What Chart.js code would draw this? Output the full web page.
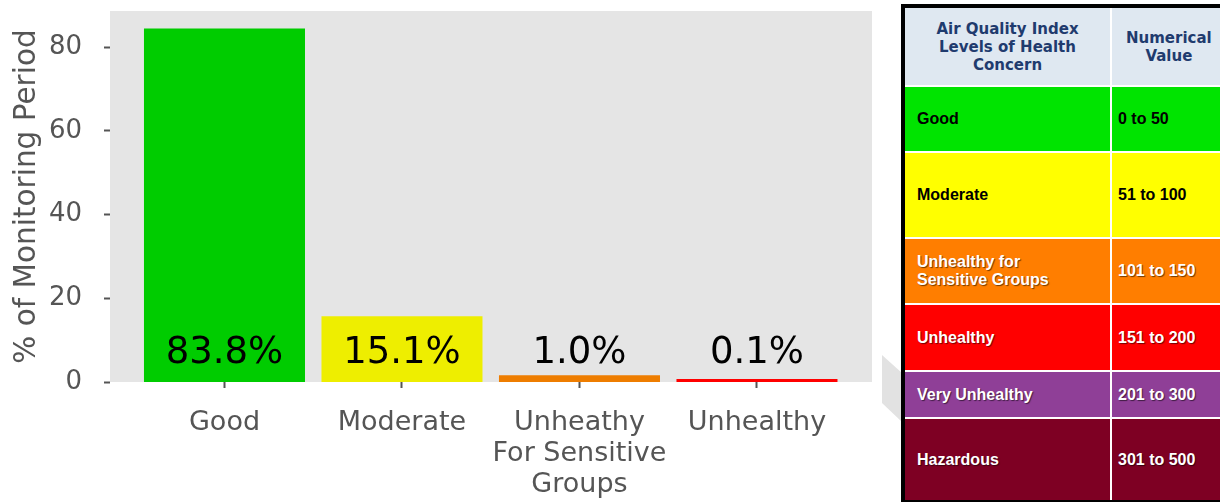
<!DOCTYPE html>
<html>
<head>
<meta charset="utf-8">
<title>Air Quality Index - % of Monitoring Period</title>
<script src="https://cdn.jsdelivr.net/npm/chart.js@4.4.1/dist/chart.umd.min.js"></script>
<style>
  html, body { margin: 0; padding: 0; background: #fff; }
  body { width: 1220px; height: 502px; position: relative; overflow: hidden; }
  #chart-wrap { position: absolute; left: 0; top: 0; width: 880px; height: 502px; }
  .chevron {
    position: absolute; left: 882px; top: 355px; width: 20px; height: 67px;
    background: #e2e2e2;
    clip-path: polygon(0 0, 20px 18px, 20px 67px, 0 48px);
  }
  #aqi-table {
    position: absolute; left: 901px; top: 4px;
    border: 4px solid #000; border-right: none;
    display: grid;
    grid-template-columns: 205px 120px;
    grid-template-rows: 77px 64px 84px 64px 65px 45px 81px;
    gap: 2px;
    background: #fff;
  }
  .cell {
    display: flex; align-items: center;
    font: bold 16px "Liberation Sans", Arial, sans-serif;
    line-height: 18px;
    padding-left: 12px;
    white-space: pre-line;
  }
  .cell.val { padding-left: 6px; }
  .cell.head {
    background: #dfe8f1; color: #1f3b6e;
    font: bold 15px "DejaVu Sans", Verdana, sans-serif;
    justify-content: center; text-align: center; padding-left: 0;
  }
  .cell.head.val { justify-content: flex-start; padding-left: 14px; }
  .cell.light { color: #fff; text-shadow: 1px 1px 1px rgba(0, 0, 0, 0.55); }
  .cell.dark { color: #000; }
</style>
</head>
<body>
<div id="chart-wrap"><canvas id="aqi-chart" width="880" height="502"></canvas></div>
<div class="chevron"></div>
<div id="aqi-table"></div>

<script>
// Bar chart data
const categories = ['Good', 'Moderate', ['Unheathy', 'For Sensitive', 'Groups'], 'Unhealthy'];
const percentages = [83.8, 15.1, 1.0, 0.1];
const barColors = ['#00cc00', '#eeee00', '#ee7d00', '#ff0000'];
const yTicks = [0, 20, 40, 60, 80];

// AQI reference table
const tableHeaders = ['Air Quality Index\nLevels of Health\nConcern', 'Numerical\nValue'];
const aqiLevels = ['Good', 'Moderate', 'Unhealthy for\nSensitive Groups', 'Unhealthy', 'Very Unhealthy', 'Hazardous'];
const aqiRanges = ['0 to 50', '51 to 100', '101 to 150', '151 to 200', '201 to 300', '301 to 500'];
const aqiColors = ['#00e400', '#ffff00', '#ff7e00', '#ff0000', '#8f3f97', '#7e0023'];
const aqiTextTone = ['dark', 'dark', 'light', 'light', 'light', 'light'];

/**
 * Build the AQI legend table from the arrays above
 */
function buildTable() {
  const table = document.getElementById('aqi-table');
  tableHeaders.forEach((text, i) => {
    const div = document.createElement('div');
    div.className = 'cell head' + (i === 1 ? ' val' : '');
    div.textContent = text;
    table.appendChild(div);
  });
  aqiLevels.forEach((level, i) => {
    const name = document.createElement('div');
    name.className = 'cell ' + aqiTextTone[i];
    name.style.background = aqiColors[i];
    name.textContent = level;
    table.appendChild(name);

    const range = document.createElement('div');
    range.className = 'cell val ' + aqiTextTone[i];
    range.style.background = aqiColors[i];
    range.textContent = aqiRanges[i];
    table.appendChild(range);
  });
}

// Grey plot background, like the ggplot style
const plotBackground = {
  id: 'plotBackground',
  beforeDraw(chart) {
    const { ctx, chartArea } = chart;
    ctx.save();
    ctx.fillStyle = '#e5e5e5';
    ctx.fillRect(chartArea.left, chartArea.top, chartArea.right - chartArea.left, chartArea.bottom - chartArea.top);
    ctx.restore();
  }
};

// Percentage labels near the bottom of each bar
const valueLabels = {
  id: 'valueLabels',
  afterDatasetsDraw(chart) {
    const { ctx } = chart;
    const meta = chart.getDatasetMeta(0);
    const base = chart.scales.y.getPixelForValue(0);
    ctx.save();
    ctx.font = '37px "DejaVu Sans"';
    ctx.fillStyle = '#000';
    ctx.textAlign = 'center';
    ctx.textBaseline = 'alphabetic';
    meta.data.forEach((bar, i) => {
      ctx.fillText(percentages[i].toFixed(1) + '%', bar.x, base - 19);
    });
    ctx.restore();
  }
};

function createChart() {
  const ctx = document.getElementById('aqi-chart');
  Chart.defaults.font.family = '"DejaVu Sans", sans-serif';

  new Chart(ctx, {
    type: 'bar',
    data: {
      datasets: [{
        data: percentages.map((v, i) => ({ x: i, y: v })),
        backgroundColor: barColors,
        borderWidth: 0,
        inflateAmount: 2.5,
        categoryPercentage: 0.879,
        barPercentage: 1
      }]
    },
    options: {
      responsive: false,
      maintainAspectRatio: false,
      animation: false,
      layout: { padding: { top: 11, right: 8, left: 0, bottom: 0 } },
      plugins: {
        legend: { display: false },
        tooltip: { enabled: false }
      },
      scales: {
        x: {
          type: 'linear',
          offset: false,
          min: -0.645,
          max: 3.648,
          afterBuildTicks: axis => { axis.ticks = categories.map((c, i) => ({ value: i })); },
          afterFit: axis => {
            axis.height = 120;
            axis.paddingLeft = 0;
            axis.paddingRight = 0;
          },
          border: { display: false },
          grid: {
            offset: false,
            drawOnChartArea: false,
            drawTicks: true,
            tickLength: 6,
            tickWidth: 2,
            tickColor: '#555'
          },
          ticks: {
            autoSkip: false,
            maxRotation: 0,
            padding: 19,
            color: '#555',
            font: { size: 27, lineHeight: 1.15 },
            callback: value => categories[value]
          }
        },
        y: {
          min: 0,
          max: 88.6,
          afterBuildTicks: axis => { axis.ticks = yTicks.map(v => ({ value: v })); },
          afterFit: axis => {
            axis.width = 110;
            axis.paddingTop = 0;
            axis.paddingBottom = 0;
          },
          border: { display: false },
          grid: {
            drawOnChartArea: false,
            drawTicks: true,
            tickLength: 6,
            tickWidth: 2,
            tickColor: '#555'
          },
          ticks: {
            padding: 22,
            color: '#555',
            font: { size: 26 }
          },
          title: {
            display: true,
            text: '% of Monitoring Period',
            color: '#555',
            font: { size: 29.5 },
            padding: { top: 10, bottom: 0 }
          }
        }
      }
    },
    plugins: [plotBackground, valueLabels]
  });
}

document.addEventListener('DOMContentLoaded', () => {
  try {
    buildTable();
    createChart();
  } catch (error) {
    console.error('Error building chart:', error);
  }
});
</script>
</body>
</html>
